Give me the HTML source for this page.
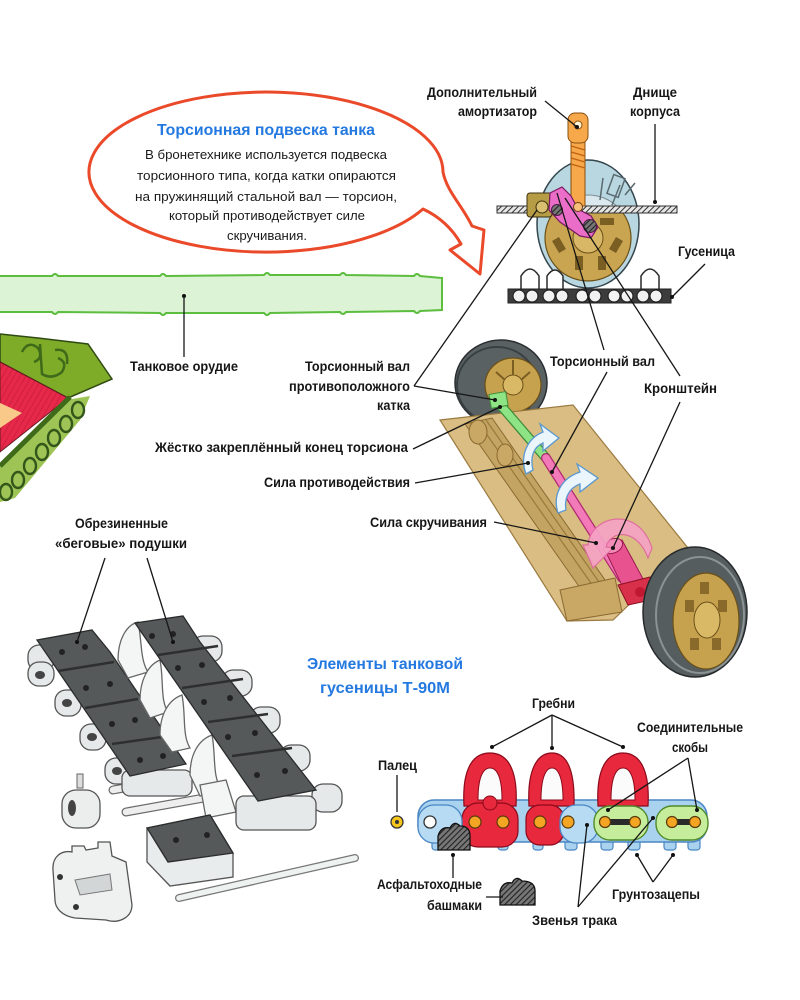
<!DOCTYPE html>
<html><head><meta charset="utf-8"><style>
html,body{margin:0;padding:0;background:#fff;}
svg{display:block}
text{font-family:"Liberation Sans","DejaVu Sans",sans-serif;}
.l{font-weight:bold;font-size:13.5px;fill:#161616;}
.b{font-size:13px;fill:#1a1a1a;}
.t{font-weight:bold;font-size:16px;fill:#2479e0;}
.ln{stroke:#161616;stroke-width:1.3;fill:none;}
</style></head><body>
<svg width="800" height="1000" viewBox="0 0 800 1000" xmlns="http://www.w3.org/2000/svg">
<defs>
<pattern id="hatch" width="4" height="4" patternUnits="userSpaceOnUse" patternTransform="rotate(45)"><rect width="4" height="4" fill="#e6e6e6"/><line x1="0" y1="0" x2="0" y2="4" stroke="#333" stroke-width="2"/></pattern>
<pattern id="hatchd" width="4" height="4" patternUnits="userSpaceOnUse" patternTransform="rotate(45)"><rect width="4" height="4" fill="#777"/><line x1="0" y1="0" x2="0" y2="4" stroke="#222" stroke-width="2.2"/></pattern>
<pattern id="redst" width="5" height="5" patternUnits="userSpaceOnUse" patternTransform="rotate(30)"><rect width="5" height="5" fill="#e6294a"/><line x1="0" y1="0" x2="0" y2="5" stroke="#c81c3a" stroke-width="1.5"/></pattern>
<clipPath id="below"><rect x="500" y="212" width="200" height="100"/></clipPath>
<clipPath id="above"><rect x="500" y="100" width="200" height="112"/></clipPath>
</defs>

<!-- ============ SPEECH BUBBLE ============ -->
<path d="M 423 209 A 177 80 0 1 1 443 172 C 447 192, 462 205, 472 226 L 484 230 L 480 274 L 450 250 L 461 244 C 452 228, 440 217, 423 209 Z" fill="#fff" stroke="#ea4a2a" stroke-width="3" stroke-linejoin="round"/>
<text class="t" x="157" y="135" textLength="218" lengthAdjust="spacingAndGlyphs">Торсионная подвеска танка</text>
<text class="b" x="145" y="159" textLength="242" lengthAdjust="spacingAndGlyphs">В бронетехнике используется подвеска</text>
<text class="b" x="137" y="180" textLength="259" lengthAdjust="spacingAndGlyphs">торсионного типа, когда катки опираются</text>
<text class="b" x="135" y="201" textLength="262" lengthAdjust="spacingAndGlyphs">на пружинящий стальной вал — торсион,</text>
<text class="b" x="169" y="220" textLength="196" lengthAdjust="spacingAndGlyphs">который противодействует силе</text>
<text class="b" x="227" y="240" textLength="80" lengthAdjust="spacingAndGlyphs">скручивания.</text>

<!-- ============ GUN BARREL ============ -->
<path d="M -5 276 L 52 276 q 3 -4 6 0 L 160 276 q 3 -4 6 0 L 264 275 q 3 -4 6 0 L 340 275 q 3 -4 6 0 L 414 276 q 3 -4 6 0 L 442 278 L 442 310 L 420 311 q -3 4 -6 0 L 346 312 q -3 4 -6 0 L 270 313 q -3 4 -6 0 L 166 313 q -3 4 -6 0 L 58 312 q -3 4 -6 0 L -5 312 Z" fill="#dcf3d6" stroke="#5cbd3e" stroke-width="2"/>
<line class="ln" x1="184" y1="296" x2="184" y2="357"/>
<circle cx="184" cy="296" r="2" fill="#111"/>
<text class="l" x="130" y="371" textLength="108" lengthAdjust="spacingAndGlyphs">Танковое орудие</text>

<!-- ============ TANK CORNER ============ -->
<path d="M 0 334 L 38 338 L 88 344 L 112 379 L 68 398 L 0 362 Z" fill="#7fac28" stroke="#2f4a12" stroke-width="1.5"/>
<path d="M 22 352 q 6 -12 16 -4 q 6 10 -4 14 M 40 344 l 2 30 q 10 6 20 -2 q 6 -10 -4 -14 M 55 350 q 14 -2 12 14" fill="none" stroke="#3e6a1a" stroke-width="2.5"/>
<path d="M 0 362 L 68 398 L 0 452 Z" fill="url(#redst)" stroke="#6a1a20" stroke-width="1"/>
<path d="M 0 403 L 22 413 L 0 428 Z" fill="#f9c98a"/>
<path d="M 66 400 L 90 396 L 80 420 L 45 462 L 15 498 L 0 502 L 0 466 Z" fill="#86b52c" opacity="0.8"/>
<path d="M 70 397 L 0 466" stroke="#3e6a1a" stroke-width="5"/>
<g fill="none" stroke="#33561a" stroke-width="2.4">
<ellipse cx="78" cy="410" rx="6" ry="8"/>
<ellipse cx="66" cy="424" rx="6" ry="8"/>
<ellipse cx="54" cy="438" rx="6" ry="8"/>
<ellipse cx="42" cy="452" rx="6" ry="8"/>
<ellipse cx="30" cy="466" rx="6" ry="8"/>
<ellipse cx="18" cy="480" rx="6" ry="8"/>
<ellipse cx="6" cy="492" rx="6" ry="8"/>
</g>

<!-- ============ TOP RIGHT SUSPENSION ============ -->
<ellipse cx="588" cy="224" rx="51" ry="64" fill="#b9d7e0" stroke="#34464e" stroke-width="1.5"/>
<circle cx="588" cy="238" r="43" fill="#dbe9ee" stroke="#7a8a90" clip-path="url(#above)"/>
<g clip-path="url(#above)" stroke="#5a6a70" stroke-width="1.5" fill="none">
<path d="M 612 205 l 8 -20 M 625 195 l 10 -12 M 600 200 l 3 -22"/>
<rect x="610" y="176" width="12" height="20" transform="rotate(20 616 186)"/>
</g>
<circle cx="588" cy="238" r="43" fill="#c9a451" stroke="#6a5018" stroke-width="1.2" clip-path="url(#below)"/>
<g clip-path="url(#below)" fill="#7a5e22">
<rect x="555" y="238" width="8" height="14" transform="rotate(-30 559 245)"/>
<rect x="575" y="256" width="8" height="14"/>
<rect x="598" y="256" width="8" height="14"/>
<rect x="612" y="238" width="8" height="14" transform="rotate(30 616 245)"/>
<rect x="600" y="218" width="14" height="7"/>
</g>
<circle cx="588" cy="238" r="15" fill="#d8b866" stroke="#6a5018" clip-path="url(#below)"/>
<rect x="497" y="206" width="180" height="7" fill="url(#hatch)" stroke="#333" stroke-width="1"/>
<rect x="527" y="193" width="25" height="24" rx="3" fill="#b59c45" stroke="#3d3010"/>
<circle cx="542" cy="207" r="6" fill="#d9c070" stroke="#3d3010"/>
<rect x="571" y="140" width="14" height="66" fill="#f6a84a" stroke="#8a4f10"/>
<path d="M 571 146 l 14 4 M 571 152 l 14 4 M 571 158 l 14 4 M 571 164 l 14 4" stroke="#c06010" stroke-width="1.2"/>
<rect x="568" y="113" width="20" height="30" rx="7" fill="#f6a84a" stroke="#8a4f10"/>
<circle cx="578" cy="125" r="4" fill="#fff3d8" stroke="#8a4f10"/>
<path d="M 550 193 L 562 187 L 571 196 L 578 209 L 591 216 L 598 227 L 591 238 L 580 236 L 560 222 L 549 210 Z" fill="#ea6ec8" stroke="#7a1a60" stroke-width="1.2"/>
<circle cx="578" cy="207" r="4.5" fill="#f6c07a" stroke="#6a3a10"/>
<circle cx="557" cy="210" r="5.5" fill="url(#hatchd)" stroke="#4a1a40"/>
<circle cx="590" cy="226" r="6.5" fill="url(#hatchd)" stroke="#4a1a40"/>
<g fill="#fff" stroke="#2a2a2a" stroke-width="1.5">
<path d="M 521 292 L 521 276 q 9 -14 18 0 L 539 292"/>
<path d="M 547 292 L 547 276 q 8 -12 16 0 L 563 292"/>
<path d="M 641 292 L 641 276 q 9 -14 18 0 L 659 292"/>
</g>
<rect x="508" y="289" width="163" height="14" fill="#3c3c3c" stroke="#222"/>
<g fill="#f2f2f2" stroke="#222" stroke-width="1.2">
<circle cx="519" cy="296" r="6"/><circle cx="532" cy="296" r="6"/>
<circle cx="549" cy="296" r="6"/><circle cx="562" cy="296" r="6"/>
<circle cx="582" cy="296" r="6"/><circle cx="595" cy="296" r="6"/>
<circle cx="614" cy="296" r="6"/><circle cx="627" cy="296" r="6"/>
<circle cx="643" cy="296" r="6"/><circle cx="656" cy="296" r="6"/>
</g>
<text class="l" x="427" y="97" textLength="110" lengthAdjust="spacingAndGlyphs">Дополнительный</text>
<text class="l" x="458" y="116" textLength="79" lengthAdjust="spacingAndGlyphs">амортизатор</text>
<text class="l" x="633" y="97" textLength="44" lengthAdjust="spacingAndGlyphs">Днище</text>
<text class="l" x="630" y="116" textLength="50" lengthAdjust="spacingAndGlyphs">корпуса</text>
<text class="l" x="678" y="256" textLength="57" lengthAdjust="spacingAndGlyphs">Гусеница</text>
<line class="ln" x1="545" y1="101" x2="577" y2="127"/><circle cx="577" cy="127" r="2" fill="#111"/>
<line class="ln" x1="655" y1="124" x2="655" y2="202"/><circle cx="655" cy="202" r="2" fill="#111"/>
<line class="ln" x1="705" y1="264" x2="672" y2="297"/><circle cx="672" cy="297" r="2" fill="#111"/>

<!-- ============ BOTTOM ASSEMBLY ============ -->
<ellipse cx="501" cy="383" rx="46" ry="43" fill="#5a6162" stroke="#2a2e30" stroke-width="1.5"/>
<ellipse cx="497" cy="385" rx="40" ry="38" fill="none" stroke="#3a4042" stroke-width="2"/>
<ellipse cx="513" cy="385" rx="28" ry="27" fill="#c6a24f" stroke="#6a5018" stroke-width="1.2"/>
<ellipse cx="513" cy="385" rx="10" ry="10" fill="#d9b866" stroke="#6a5018"/>
<g stroke="#7a5e22" stroke-width="2"><line x1="513" y1="360" x2="513" y2="375"/><line x1="530" y1="372" x2="521" y2="380"/><line x1="496" y1="372" x2="505" y2="380"/></g>
<path d="M 440 420 L 573 405 L 688 548 L 613 620 L 567 621 Z" fill="#d9bd82" stroke="#9a7a40" stroke-width="1.2"/>
<path d="M 465 424 L 492 418 L 612 590 L 590 602 Z" fill="#c4a463" stroke="#8a6a30"/>
<path d="M 478 422 L 600 596 M 486 420 L 606 592" stroke="#9a7a3a" stroke-width="1.2"/>
<path d="M 560 590 L 615 578 L 622 612 L 567 621 Z" fill="#c9a866" stroke="#8a6a30"/>
<ellipse cx="478" cy="432" rx="9" ry="12" fill="#c9a866" stroke="#8a6a30"/>
<ellipse cx="505" cy="455" rx="8" ry="11" fill="#c9a866" stroke="#8a6a30"/>
<line x1="497" y1="401" x2="546" y2="458" stroke="#3f8a3a" stroke-width="10" stroke-linecap="round"/>
<line x1="497" y1="401" x2="546" y2="458" stroke="#8ee485" stroke-width="7.5" stroke-linecap="round"/>
<line x1="546" y1="458" x2="622" y2="578" stroke="#b02a70" stroke-width="10" stroke-linecap="round"/>
<line x1="546" y1="458" x2="622" y2="578" stroke="#f27ab8" stroke-width="7.5" stroke-linecap="round"/>
<rect x="490" y="393" width="17" height="14" fill="#8ee485" stroke="#3f8a3a" transform="rotate(-10 498 400)"/>
<path d="M 526 474 C 519 455, 528 438, 543 432 L 540 424 L 559 438 L 543 451 L 543 443 C 533 447, 530 458, 533 470 Z" fill="#eaf5fc" stroke="#5a98d0" stroke-width="1.3"/>
<path d="M 558 513 C 552 494, 562 478, 580 472 L 577 464 L 598 478 L 580 492 L 580 484 C 569 488, 564 498, 566 510 Z" fill="#eaf5fc" stroke="#5a98d0" stroke-width="1.3"/>
<path d="M 604 548 L 622 540 L 648 588 L 628 598 Z" fill="#e8528e" stroke="#9a1a50"/>
<ellipse cx="613" cy="546" rx="10" ry="7" fill="#f48cb8" stroke="#9a1a50" transform="rotate(-25 613 546)"/>
<path d="M 618 585 L 650 577 L 660 598 L 628 605 Z" fill="#d8304a" stroke="#8a1020"/>
<circle cx="640" cy="592" r="5" fill="#c01830"/>
<path d="M 588 545 C 590 516, 638 504, 652 548 L 648 558 C 638 530, 612 528, 606 547 L 613 548 L 593 568 L 583 545 Z" fill="#f6a3c6" stroke="#e06aa0" stroke-width="1.2" opacity="0.92"/>
<ellipse cx="695" cy="612" rx="52" ry="65" fill="#565d5f" stroke="#262a2c" stroke-width="1.5"/>
<ellipse cx="700" cy="615" rx="44" ry="58" fill="none" stroke="#8a9294" stroke-width="2"/>
<ellipse cx="706" cy="621" rx="33" ry="48" fill="#c6a24f" stroke="#6a5018" stroke-width="1.2"/>
<ellipse cx="707" cy="620" rx="13" ry="18" fill="#d9b866" stroke="#6a5018"/>
<g fill="#8a6a2a"><rect x="700" y="582" width="9" height="12"/><rect x="718" y="600" width="9" height="12"/><rect x="685" y="600" width="9" height="12"/><rect x="712" y="638" width="9" height="12"/><rect x="690" y="638" width="9" height="12"/></g>

<text class="l" x="305" y="371" textLength="105" lengthAdjust="spacingAndGlyphs">Торсионный вал</text>
<text class="l" x="289" y="391" textLength="121" lengthAdjust="spacingAndGlyphs">противоположного</text>
<text class="l" x="377" y="410" textLength="33" lengthAdjust="spacingAndGlyphs">катка</text>
<text class="l" x="155" y="452" textLength="253" lengthAdjust="spacingAndGlyphs">Жёстко закреплённый конец торсиона</text>
<text class="l" x="264" y="487" textLength="146" lengthAdjust="spacingAndGlyphs">Сила противодействия</text>
<text class="l" x="370" y="527" textLength="117" lengthAdjust="spacingAndGlyphs">Сила скручивания</text>
<text class="l" x="550" y="366" textLength="105" lengthAdjust="spacingAndGlyphs">Торсионный вал</text>
<text class="l" x="644" y="393" textLength="73" lengthAdjust="spacingAndGlyphs">Кронштейн</text>

<line class="ln" x1="414" y1="386" x2="537" y2="210"/>
<line class="ln" x1="414" y1="386" x2="495" y2="400"/><circle cx="495" cy="400" r="2" fill="#111"/>
<line class="ln" x1="413" y1="449" x2="500" y2="407"/><circle cx="500" cy="407" r="2" fill="#111"/>
<line class="ln" x1="415" y1="483" x2="528" y2="463"/><circle cx="528" cy="463" r="2" fill="#111"/>
<line class="ln" x1="494" y1="522" x2="596" y2="543"/><circle cx="596" cy="543" r="2" fill="#111"/>
<line class="ln" x1="557" y1="193" x2="604" y2="350"/>
<line class="ln" x1="565" y1="198" x2="680" y2="376"/>
<line class="ln" x1="607" y1="372" x2="552" y2="472"/><circle cx="552" cy="472" r="2" fill="#111"/>
<line class="ln" x1="680" y1="402" x2="613" y2="548"/><circle cx="613" cy="548" r="2" fill="#111"/>

<!-- ============ TRACK PADS (bottom-left) ============ -->
<text class="l" x="75" y="528" textLength="93" lengthAdjust="spacingAndGlyphs">Обрезиненные</text>
<text class="l" x="55" y="548" textLength="132" lengthAdjust="spacingAndGlyphs">«беговые» подушки</text>

<line x1="113" y1="790" x2="195" y2="775" stroke="#6a6a6a" stroke-width="9" stroke-linecap="round"/>
<line x1="113" y1="790" x2="195" y2="775" stroke="#eeeeee" stroke-width="6.5" stroke-linecap="round"/>
<line x1="126" y1="812" x2="215" y2="796" stroke="#6a6a6a" stroke-width="9" stroke-linecap="round"/>
<line x1="126" y1="812" x2="215" y2="796" stroke="#eeeeee" stroke-width="6.5" stroke-linecap="round"/>

<g fill="#e6e9e9" stroke="#555" stroke-width="1.3">
<rect x="28" y="645" width="26" height="26" rx="11"/>
<rect x="28" y="662" width="26" height="24" rx="11"/>
<rect x="55" y="690" width="26" height="26" rx="11"/>
<rect x="80" y="724" width="26" height="26" rx="11"/>
<rect x="105" y="758" width="26" height="26" rx="11"/>
<rect x="122" y="770" width="70" height="26" rx="8"/>
</g>
<g fill="#444"><ellipse cx="40" cy="675" rx="5" ry="4"/><ellipse cx="67" cy="703" rx="5" ry="4"/><ellipse cx="92" cy="737" rx="5" ry="4"/><ellipse cx="117" cy="771" rx="5" ry="4"/></g>
<path d="M 37 640 L 92 630 L 110 652 L 186 764 L 130 776 Z" fill="#55595a" stroke="#2a2c2c" stroke-width="1.3"/>
<g stroke="#2e3030" stroke-width="2.5"><line x1="58" y1="671" x2="114" y2="662"/><line x1="85" y1="708" x2="138" y2="699"/><line x1="112" y1="744" x2="162" y2="737"/></g>
<g fill="#222">
<circle cx="62" cy="652" r="3"/><circle cx="85" cy="647" r="3"/>
<circle cx="86" cy="688" r="3"/><circle cx="110" cy="684" r="3"/>
<circle cx="112" cy="724" r="3"/><circle cx="135" cy="720" r="3"/>
<circle cx="140" cy="760" r="3"/><circle cx="163" cy="756" r="3"/>
</g>
<g fill="#f4f6f6" stroke="#666" stroke-width="1.3">
<path d="M 118 660 C 118 640, 126 625, 138 622 C 142 640, 140 660, 148 672 L 128 678 Z"/>
<path d="M 140 700 C 140 680, 148 665, 160 660 C 164 680, 160 700, 168 712 L 150 718 Z"/>
<path d="M 160 735 C 160 715, 168 700, 182 695 C 186 715, 182 735, 190 748 L 172 752 Z"/>
<path d="M 190 775 C 190 755, 198 740, 212 735 C 216 755, 212 778, 222 790 L 200 796 Z"/>
<path d="M 200 785 L 226 780 L 236 812 L 206 818 Z"/>
</g>
<g fill="#e6e9e9" stroke="#555" stroke-width="1.3">
<rect x="192" y="636" width="30" height="26" rx="11"/>
<rect x="222" y="670" width="30" height="26" rx="11"/>
<rect x="250" y="707" width="30" height="26" rx="11"/>
<rect x="280" y="745" width="30" height="26" rx="11"/>
<rect x="312" y="784" width="30" height="28" rx="11"/>
<rect x="236" y="796" width="80" height="34" rx="8"/>
</g>
<path d="M 135 623 L 183 616 L 200 642 L 316 790 L 258 801 Z" fill="#55595a" stroke="#2a2c2c" stroke-width="1.3"/>
<g stroke="#2e3030" stroke-width="2.5"><line x1="158" y1="655" x2="218" y2="646"/><line x1="182" y1="688" x2="243" y2="679"/><line x1="208" y1="722" x2="268" y2="714"/><line x1="232" y1="756" x2="292" y2="748"/></g>
<g fill="#222">
<circle cx="152" cy="636" r="3"/><circle cx="173" cy="634" r="3"/>
<circle cx="178" cy="668" r="3"/><circle cx="202" cy="665" r="3"/>
<circle cx="204" cy="702" r="3"/><circle cx="230" cy="698" r="3"/>
<circle cx="228" cy="737" r="3"/><circle cx="255" cy="733" r="3"/>
<circle cx="257" cy="775" r="3"/><circle cx="285" cy="771" r="3"/>
</g>
<rect x="77" y="774" width="6" height="14" fill="#ddd" stroke="#666"/>
<rect x="62" y="790" width="38" height="38" rx="14" fill="#eceeee" stroke="#555" stroke-width="1.3"/>
<ellipse cx="72" cy="808" rx="4" ry="8" fill="#444"/>
<path d="M 147 828 L 210 815 L 233 853 L 233 877 L 170 886 L 147 862 Z" fill="#e9ecec" stroke="#555" stroke-width="1.3"/>
<path d="M 147 828 L 210 815 L 233 853 L 168 862 Z" fill="#55595a" stroke="#2a2c2c" stroke-width="1.3"/>
<circle cx="176" cy="840" r="3" fill="#222"/><circle cx="207" cy="835" r="3" fill="#222"/>
<path d="M 53 870 C 52 856, 62 850, 72 852 L 72 846 L 84 846 L 86 850 L 98 848 L 98 842 L 110 842 L 112 856 L 126 862 L 132 905 C 132 918, 118 924, 106 920 L 75 918 C 62 916, 55 908, 55 900 Z" fill="#eff1f1" stroke="#555" stroke-width="1.3"/>
<path d="M 75 880 L 110 874 L 112 890 L 80 895 Z" fill="#d2d6d6" stroke="#777"/>
<circle cx="60" cy="877" r="3" fill="#333"/><circle cx="76" cy="907" r="3" fill="#333"/>
<line x1="179" y1="898" x2="355" y2="858" stroke="#777" stroke-width="8" stroke-linecap="round"/>
<line x1="179" y1="898" x2="355" y2="858" stroke="#eef2f0" stroke-width="5.5" stroke-linecap="round"/>

<line class="ln" x1="105" y1="558" x2="77" y2="642"/><circle cx="77" cy="642" r="2" fill="#111"/>
<line class="ln" x1="147" y1="558" x2="173" y2="642"/><circle cx="173" cy="642" r="2" fill="#111"/>

<!-- ============ TITLE 2 ============ -->
<text class="t" x="307" y="669" textLength="156" lengthAdjust="spacingAndGlyphs">Элементы танковой</text>
<text class="t" x="320" y="693" textLength="130" lengthAdjust="spacingAndGlyphs">гусеницы Т-90М</text>

<!-- ============ TRACK LINK DIAGRAM ============ -->
<g fill="#a9d2ef" stroke="#4a86c4" stroke-width="1.2">
<rect x="432" y="836" width="10" height="14" rx="3"/>
<rect x="498" y="836" width="10" height="14" rx="3"/>
<rect x="533" y="836" width="10" height="14" rx="3"/>
<rect x="565" y="836" width="12" height="14" rx="3"/>
<rect x="601" y="836" width="12" height="14" rx="3"/>
<rect x="628" y="836" width="12" height="14" rx="3"/>
<rect x="664" y="836" width="12" height="14" rx="3"/>
<rect x="688" y="836" width="12" height="14" rx="3"/>
</g>
<rect x="418" y="800" width="289" height="42" rx="16" fill="#a9d2ef" stroke="#4a86c4" stroke-width="1.5"/>
<g fill="#e8283c" stroke="#8a0a1a" stroke-width="1.2">
<path d="M 464 806 C 462 770, 472 753, 490 753 C 508 753, 518 770, 516 806 Z"/>
<path d="M 529 806 C 527 770, 537 753, 552 753 C 567 753, 575 770, 574 806 Z"/>
<path d="M 598 806 C 596 770, 606 753, 623 753 C 640 753, 650 770, 648 806 Z"/>
</g>
<g fill="#fbfbfb" stroke="#8a0a1a" stroke-width="1">
<path d="M 478 800 C 478 780, 482 768, 490 768 C 498 768, 502 780, 502 800 Z"/>
<path d="M 541 800 C 541 780, 545 768, 552 768 C 559 768, 563 780, 563 800 Z"/>
<path d="M 611 800 C 611 780, 615 768, 623 768 C 631 768, 635 780, 635 800 Z"/>
</g>
<rect x="462" y="803" width="56" height="44" rx="16" fill="#e8283c" stroke="#8a0a1a" stroke-width="1.2"/>
<rect x="526" y="805" width="38" height="40" rx="14" fill="#e8283c" stroke="#8a0a1a" stroke-width="1.2"/>
<circle cx="490" cy="803" r="7" fill="#e8283c" stroke="#8a0a1a"/>
<rect x="418" y="805" width="44" height="38" rx="16" fill="#b6dbf3" stroke="#4a86c4" stroke-width="1.3"/>
<circle cx="430" cy="822" r="6" fill="#fff" stroke="#333" stroke-width="1.3"/>
<rect x="560" y="805" width="38" height="38" rx="16" fill="#b6dbf3" stroke="#4a86c4" stroke-width="1.3"/>
<rect x="594" y="806" width="54" height="34" rx="16" fill="#c6ed9c" stroke="#4f8a2a" stroke-width="1.4"/>
<rect x="656" y="806" width="52" height="34" rx="16" fill="#c6ed9c" stroke="#4f8a2a" stroke-width="1.4"/>
<rect x="605" y="819" width="30" height="6" fill="#2a2a2a"/>
<rect x="672" y="819" width="23" height="6" fill="#2a2a2a"/>
<g fill="#f5a524" stroke="#5a3a0a" stroke-width="1.2">
<circle cx="475" cy="822" r="6"/><circle cx="503" cy="822" r="6"/>
<circle cx="540" cy="822" r="6"/><circle cx="568" cy="822" r="6"/>
<circle cx="605" cy="822" r="5.5"/><circle cx="635" cy="822" r="5.5"/>
<circle cx="672" cy="822" r="5.5"/><circle cx="695" cy="822" r="5.5"/>
</g>
<path d="M 438 850 L 438 836 q 3 -10 12 -8 q 4 -8 10 -2 q 10 0 10 10 L 470 850 Z" fill="url(#hatchd)" stroke="#111" stroke-width="1.3"/>
<path d="M 500 905 L 500 891 q 3 -10 12 -8 q 4 -8 10 -2 q 13 0 13 10 L 535 905 Z" fill="url(#hatchd)" stroke="#111" stroke-width="1.3"/>
<circle cx="397" cy="822" r="6" fill="#f6c61c" stroke="#333" stroke-width="1.3"/>
<circle cx="397" cy="822" r="2" fill="#333"/>

<text class="l" x="532" y="708" textLength="43" lengthAdjust="spacingAndGlyphs">Гребни</text>
<text class="l" x="637" y="732" textLength="106" lengthAdjust="spacingAndGlyphs">Соединительные</text>
<text class="l" x="672" y="752" textLength="36" lengthAdjust="spacingAndGlyphs">скобы</text>
<text class="l" x="378" y="770" textLength="39" lengthAdjust="spacingAndGlyphs">Палец</text>
<text class="l" x="377" y="889" textLength="105" lengthAdjust="spacingAndGlyphs">Асфальтоходные</text>
<text class="l" x="427" y="910" textLength="55" lengthAdjust="spacingAndGlyphs">башмаки</text>
<text class="l" x="612" y="899" textLength="88" lengthAdjust="spacingAndGlyphs">Грунтозацепы</text>
<text class="l" x="532" y="925" textLength="85" lengthAdjust="spacingAndGlyphs">Звенья трака</text>

<line class="ln" x1="552" y1="715" x2="492" y2="747"/><circle cx="492" cy="747" r="2" fill="#111"/>
<line class="ln" x1="552" y1="715" x2="552" y2="748"/><circle cx="552" cy="748" r="2" fill="#111"/>
<line class="ln" x1="552" y1="715" x2="623" y2="747"/><circle cx="623" cy="747" r="2" fill="#111"/>
<line class="ln" x1="688" y1="758" x2="608" y2="810"/><circle cx="608" cy="810" r="2" fill="#111"/>
<line class="ln" x1="688" y1="758" x2="697" y2="810"/><circle cx="697" cy="810" r="2" fill="#111"/>
<line class="ln" x1="397" y1="775" x2="397" y2="812"/>
<line class="ln" x1="453" y1="855" x2="453" y2="878"/><circle cx="453" cy="855" r="2" fill="#111"/>
<line class="ln" x1="486" y1="897" x2="503" y2="897"/>
<line class="ln" x1="578" y1="907" x2="587" y2="825"/><circle cx="587" cy="825" r="2" fill="#111"/>
<line class="ln" x1="578" y1="907" x2="653" y2="818"/><circle cx="653" cy="818" r="2" fill="#111"/>
<line class="ln" x1="653" y1="882" x2="637" y2="855"/><circle cx="637" cy="855" r="2" fill="#111"/>
<line class="ln" x1="653" y1="882" x2="673" y2="855"/><circle cx="673" cy="855" r="2" fill="#111"/>
</svg>
</body></html>
